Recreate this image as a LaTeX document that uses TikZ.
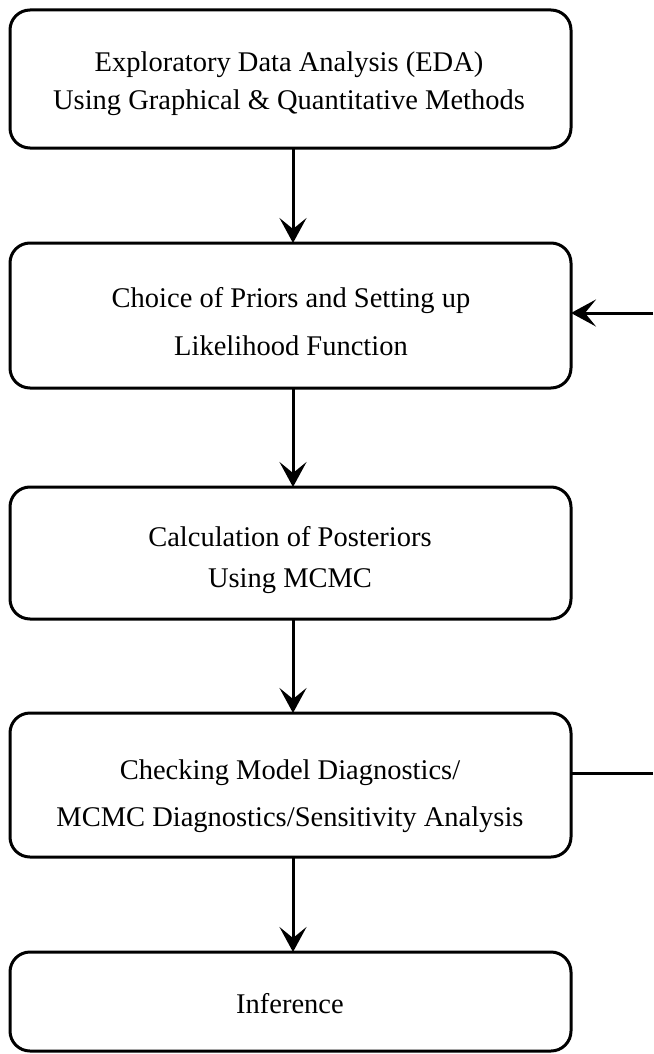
\documentclass[tikz,border=0pt]{standalone}
\usepackage{fontspec}
\setmainfont{Liberation Serif}
\usetikzlibrary{arrows.meta}

\tikzset{
  stage/.style={draw=black, line width=3pt, rounded corners=20pt,
    minimum width=561pt, inner sep=0pt, outer sep=0pt},
  caption/.style={anchor=base, inner sep=0pt,
    font=\fontsize{28.5}{34}\selectfont},
  flow/.style={line width=3pt, -{Stealth[length=25pt, width=27pt, inset=11pt]}},
  plainline/.style={line width=3pt}
}

\begin{document}
\begin{tikzpicture}[x=1pt, y=-1pt]
  \useasboundingbox (0,0) rectangle (653,1054);

  % stages of the analysis
  \node[stage, minimum height=138pt] (b1) at (290.5,79) {};
  \node[stage, minimum height=145pt] (b2) at (290.5,315.5) {};
  \node[stage, minimum height=132pt] (b3) at (290.5,553) {};
  \node[stage, minimum height=144pt] (b4) at (290.5,785) {};
  \node[stage, minimum height=99pt]  (b5) at (290.5,1001.5) {};

  % texts
  \node[caption] (t1a) at (289,72)  {Exploratory Data Analysis (EDA)};
  \node[caption] (t1b) at (289,110) {Using Graphical \& Quantitative Methods};
  \node[caption] (t2a) at (291,307) {Choice of Priors and Setting up};
  \node[caption] (t2b) at (291,355) {Likelihood Function};
  \node[caption] (t3a) at (290,546) {Calculation of Posteriors};
  \node[caption] (t3b) at (290,587) {Using MCMC};
  \node[caption] (t4a) at (290,779) {Checking Model Diagnostics/};
  \node[caption] (t4b) at (290,826) {MCMC Diagnostics/Sensitivity Analysis};
  \node[caption] (t5)  at (290,1013) {Inference};

  % column of the downward arrows and the loop ends at the right margin
  \coordinate (ax) at (293,0);
  \coordinate (loopin) at (653,313);
  \coordinate (loopout) at (653,773);

  \draw[flow] (b1.south -| ax) -- (b2.north -| ax);
  \draw[flow] (b2.south -| ax) -- (b3.north -| ax);
  \draw[flow] (b3.south -| ax) -- (b4.north -| ax);
  \draw[flow] (b4.south -| ax) -- (b5.north -| ax);

  % feedback loop
  \draw[flow] (loopin) -- (loopin -| b2.east);
  \draw[plainline] (loopout -| b4.east) -- (loopout);
\end{tikzpicture}
\end{document}
